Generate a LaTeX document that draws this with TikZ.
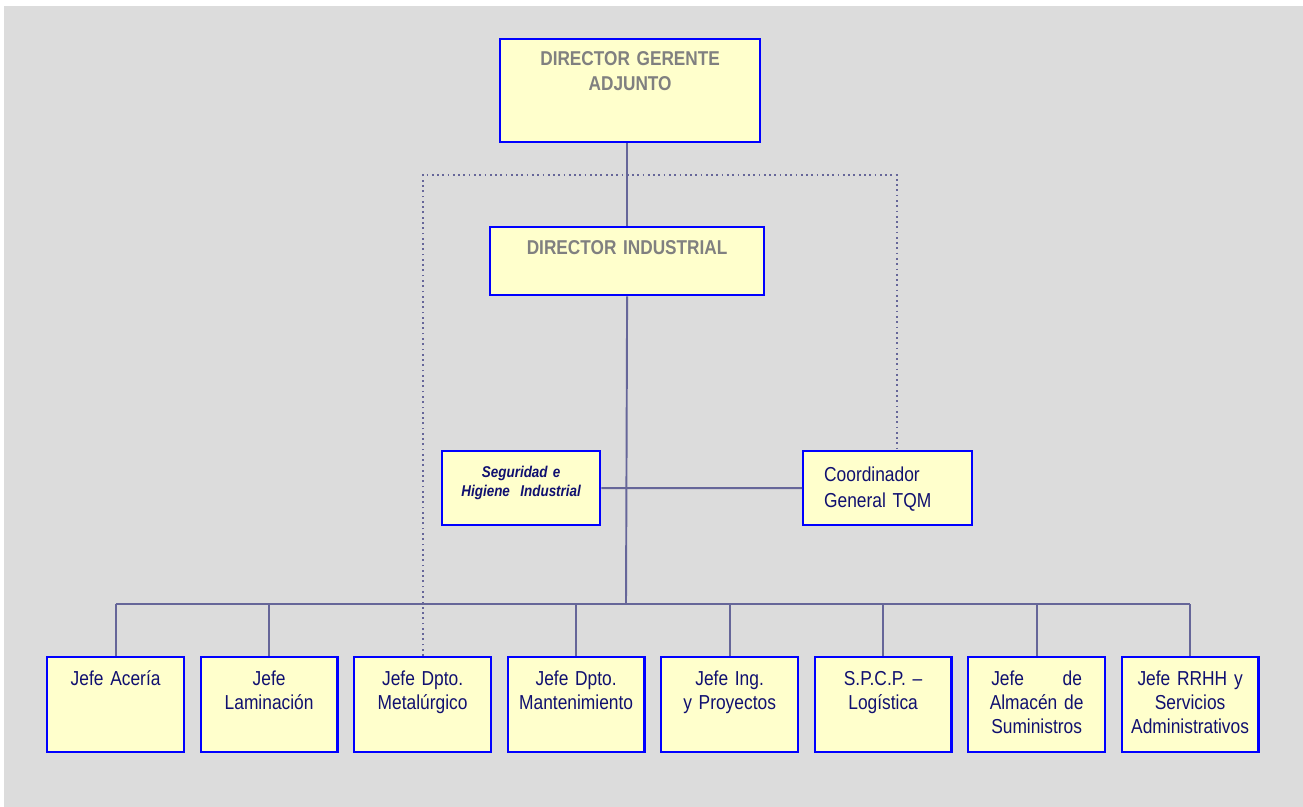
\documentclass[tikz,border=0pt]{standalone}
\usepackage{fontspec}
\setmainfont{Liberation Sans}[FakeStretch=0.86, WordSpace=0.6]
\usepackage{calc}

\definecolor{bgGray}{RGB}{220,220,220}
\definecolor{boxYellow}{RGB}{255,255,204}
\definecolor{boxBlue}{RGB}{0,0,255}
\definecolor{lineBlue}{RGB}{102,102,153}
\definecolor{headGray}{RGB}{128,128,128}
\definecolor{navy}{RGB}{16,16,112}

\begin{document}
\begin{tikzpicture}[x=0.02cm, y=-0.02cm,
    unit/.style={draw=boxBlue, line width=1.3pt, fill=boxYellow, anchor=north west,
        inner xsep=0pt, inner ysep=0pt, align=center},
    head/.style={unit, text=headGray, font=\bfseries\fontsize{11.4}{14.2}\selectfont},
    jefe/.style={unit, text=navy, font=\fontsize{11.5}{13.6}\selectfont,
        text width=2.74cm, text height=0.57cm, text depth=1.33cm},
    link/.style={draw=lineBlue, line width=1.1pt},
    dots/.style={draw=lineBlue, line width=1pt, dotted}]

\useasboundingbox (0,0) rectangle (1303,807);
\fill[bgGray] (4,6) rectangle (1303,807);

% Top of the chart.
\node[head, text width=5.2cm, text height=0.53cm, text depth=1.53cm]
    (dga) at (499,38) {DIRECTOR GERENTE\\ADJUNTO};
\node[head, text width=5.48cm, text height=0.55cm, text depth=0.81cm]
    (dind) at (489,226) {DIRECTOR INDUSTRIAL};

% Staff units.
\node[unit, text=navy, font=\bfseries\itshape\fontsize{8.9}{11}\selectfont,
    text width=3.16cm, text height=0.53cm, text depth=0.95cm]
    (segu) at (441,450) {Seguridad e\\Higiene~~Industrial};
\node[unit, text=navy, font=\fontsize{11.5}{15}\selectfont, align=left,
    inner xsep=0.42cm, text width=2.54cm, text height=0.61cm, text depth=0.87cm]
    (tqm) at (802,450) {Coordinador\\General TQM};

% Heads of department.
\foreach \nm/\txt [count=\i from 0] in {
    acer/{Jefe Acería},
    lami/{Jefe\\Laminación},
    meta/{Jefe Dpto.\\Metalúrgico},
    mant/{Jefe Dpto.\\Mantenimiento},
    ingp/{Jefe Ing.\\y Proyectos},
    spcp/{S.P.C.P. –\\Logística},
    alma/{\makebox[\widthof{Suministros}]{Jefe\hfill de}\\\makebox[\widthof{Suministros}]{Almacén \hfill de}\\Suministros},
    rrhh/{Jefe RRHH y\\Servicios\\Administrativos}}
    \node[jefe] (\nm) at (46+153.5*\i, 656) {\txt};

% Draw connectors.
\coordinate (bus) at (626,604);
\draw[link] (dind.north) -- (dind.north |- dga.south);
\draw[link] (dind.south) -- (bus);
\draw[link] (segu.east) -- (tqm.west);
\draw[link] (acer.north |- bus) -- (rrhh.north |- bus);
\foreach \nm in {acer, lami, mant, ingp, spcp, alma, rrhh}
    \draw[link] (\nm.north) -- (\nm.north |- bus);

% Functional (dotted) links.
\coordinate (dtop) at (897,175);
\draw[dots] (meta.north) |- (dtop) -- (dtop |- tqm.north);

\end{tikzpicture}
\end{document}
